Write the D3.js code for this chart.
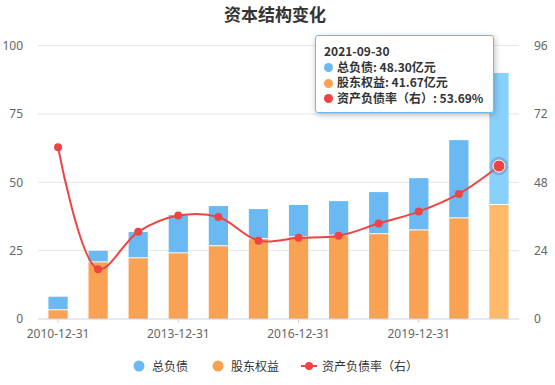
<!DOCTYPE html>
<html>
<head>
<meta charset="utf-8">
<script src="https://cdn.jsdelivr.net/npm/d3@7"></script>
<style>
  body { margin: 0; background: #fff; font-family: "Noto Sans CJK SC", "Noto Sans", sans-serif; }
  #chart { position: relative; width: 555px; height: 385px; }
  .tip {
    position: absolute; left: 315px; top: 35px; width: 160px; height: 61px;
    padding: 7px 9px 8px 8px; background: rgba(255,255,255,0.95);
    border: 1px solid #6ab9f2; border-radius: 3px;
    box-shadow: 1px 2px 6px rgba(0,0,0,0.25);
    font-size: 12px; line-height: 15.5px; color: #333; font-weight: bold;
  }
  .tip .dot { display: inline-block; width: 9px; height: 9px; border-radius: 50%; margin-right: 4px; vertical-align: -0.5px; }
</style>
</head>
<body>
<div id="chart"></div>
<script>
// ---------------- data ----------------
const dates = ["2010-12-31", "2011-12-31", "2012-12-31", "2013-12-31", "2014-12-31", "2015-12-31",
               "2016-12-31", "2017-12-31", "2018-12-31", "2019-12-31", "2020-12-31", "2021-09-30"];
const debt = [4.95, 4.2, 9.6, 14.0, 14.7, 11.0, 11.8, 12.6, 15.4, 19.1, 28.6, 48.30];     // 总负债 (亿元)
const equity = [3.2, 20.7, 22.2, 24.0, 26.6, 29.2, 29.9, 30.5, 31.0, 32.4, 36.8, 41.67];  // 股东权益 (亿元)
const ratio = [60.3, 17.5, 30.6, 36.3, 35.8, 27.5, 28.5, 29.2, 33.5, 37.7, 43.9, 53.69];  // 资产负债率 (%)
const leftTicks = [0, 25, 50, 75, 100];
const rightTicks = [0, 24, 48, 72, 96];
const xLabels = ["2010-12-31", "2013-12-31", "2016-12-31", "2019-12-31"];

const blue = "#6ab9f2", orange = "#f9a254", red = "#ef4444";
const blueHi = "#88d1fc", orangeHi = "#ffb96b";

const W = 555, H = 385;
const m = { left: 38, right: 36, top: 45.5, bottom: 66 };

const svg = d3.select("#chart").append("svg").attr("width", W).attr("height", H);

const x = d3.scaleBand().domain(dates).range([m.left, W - m.right]).paddingInner(0.52).paddingOuter(0.26);
const yL = d3.scaleLinear().domain([0, 100]).range([H - m.bottom, m.top]);
const yR = d3.scaleLinear().domain([0, 96]).range([H - m.bottom, m.top]);

// title
svg.append("text").attr("x", 275).attr("y", 21).attr("text-anchor", "middle")
  .style("font-size", "17px").style("font-weight", "bold").style("fill", "#333")
  .text("资本结构变化");

// grid
svg.append("g").selectAll("line").data(leftTicks.slice(1)).join("line")
  .attr("x1", m.left).attr("x2", W - m.right)
  .attr("y1", d => yL(d)).attr("y2", d => yL(d))
  .attr("stroke", "#e6e6e6").attr("stroke-width", 1);

// left axis
const axL = svg.append("g").attr("transform", `translate(${m.left},0)`)
  .call(d3.axisLeft(yL).tickValues(leftTicks).tickSize(0).tickPadding(15));
axL.select(".domain").remove();
axL.selectAll("text").style("font-size", "12px").style("fill", "#666").style("font-family", "Noto Sans, sans-serif");

// right axis
const axR = svg.append("g").attr("transform", `translate(${W - m.right},0)`)
  .call(d3.axisRight(yR).tickValues(rightTicks).tickSize(0).tickPadding(15));
axR.select(".domain").remove();
axR.selectAll("text").style("font-size", "12px").style("fill", "#666").style("font-family", "Noto Sans, sans-serif");

// bars
const stack = dates.map((d, i) => ({ date: d, eq: equity[i], debt: debt[i], last: i === dates.length - 1 }));
const gb = svg.append("g");
gb.selectAll(".eq").data(stack).join("rect").attr("class", "eq")
  .attr("x", d => x(d.date)).attr("width", x.bandwidth())
  .attr("y", d => yL(d.eq)).attr("height", d => yL(0) - yL(d.eq))
  .attr("fill", d => d.last ? orangeHi : orange);
gb.selectAll(".debt").data(stack).join("rect").attr("class", "debt")
  .attr("x", d => x(d.date)).attr("width", x.bandwidth())
  .attr("y", d => yL(d.eq + d.debt)).attr("height", d => yL(d.eq) - yL(d.eq + d.debt) - 1)
  .attr("fill", d => d.last ? blueHi : blue);

// x axis
const ax = svg.append("g").attr("transform", `translate(0,${H - m.bottom})`)
  .call(d3.axisBottom(x).tickValues(xLabels).tickSize(4).tickPadding(6).tickSizeOuter(0));
ax.select(".domain").attr("stroke", "#ccd3e4");
ax.selectAll(".tick line").attr("stroke", "#ccd3e4");
ax.selectAll("text").style("font-size", "12px").style("fill", "#666").style("font-family", "Noto Sans, sans-serif");
ax.select(".domain").attr("d", `M${m.left},0H${W - m.right}`);

// line
const cx = d => x(d) + x.bandwidth() / 2;
const line = d3.line().x((d, i) => cx(dates[i])).y(d => yR(d)).curve(d3.curveCatmullRom.alpha(0.5));
svg.append("path").datum(ratio).attr("d", line)
  .attr("fill", "none").attr("stroke", red).attr("stroke-width", 2);
svg.append("g").selectAll("circle").data(ratio.slice(0, -1)).join("circle")
  .attr("cx", (d, i) => cx(dates[i])).attr("cy", d => yR(d)).attr("r", 4)
  .attr("fill", red);
// hovered point
const li = ratio.length - 1;
svg.append("circle").attr("cx", cx(dates[li])).attr("cy", yR(ratio[li])).attr("r", 7.5)
  .attr("fill", "none").attr("stroke", "rgba(120,130,180,0.45)").attr("stroke-width", 3.5);
svg.append("circle").attr("cx", cx(dates[li])).attr("cy", yR(ratio[li])).attr("r", 6)
  .attr("fill", red).attr("stroke", "#fff").attr("stroke-width", 1);

// legend
const leg = svg.append("g").style("font-size", "12px").style("fill", "#333");
leg.append("circle").attr("cx", 139).attr("cy", 366).attr("r", 5.5).attr("fill", blue);
leg.append("text").attr("x", 152).attr("y", 370.5).text("总负债");
leg.append("circle").attr("cx", 218).attr("cy", 366).attr("r", 5.5).attr("fill", orange);
leg.append("text").attr("x", 231).attr("y", 370.5).text("股东权益");
leg.append("line").attr("x1", 301).attr("x2", 317).attr("y1", 366).attr("y2", 366).attr("stroke", red).attr("stroke-width", 2);
leg.append("circle").attr("cx", 309).attr("cy", 366).attr("r", 4).attr("fill", red);
leg.append("text").attr("x", 322).attr("y", 370.5).text("资产负债率（右）");

// tooltip
const tip = d3.select("#chart").append("div").attr("class", "tip");
tip.append("div").text(dates[li]);
const rows = [
  [blue, `总负债: ${debt[li].toFixed(2)}亿元`],
  [orange, `股东权益: ${equity[li].toFixed(2)}亿元`],
  [red, `资产负债率（右）: ${ratio[li].toFixed(2)}%`]
];
rows.forEach(r => {
  const row = tip.append("div");
  row.append("span").attr("class", "dot").style("background", r[0]);
  row.append("span").text(r[1]);
});
</script>
</body>
</html>
